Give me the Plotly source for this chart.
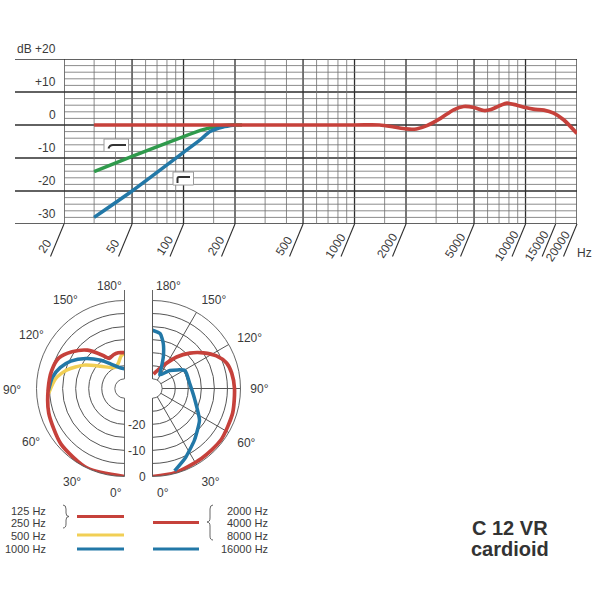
import numpy as np
import plotly.graph_objects as go

W = H = 600
def px(x): return x / W
def py(y): return 1 - y / H

FONT = "Liberation Sans, Arial, Helvetica, sans-serif"
TXT = "#3a3a3a"
RED = "#c6413b"
GREEN = "#2f9a4c"
BLUE = "#2278a7"
YELLOW = "#f1cf55"

# ---------------- frequency response data ----------------
grid_major_f = [20, 50, 100, 200, 500, 1000, 2000, 5000, 10000, 20000]
grid_minor_f = [30, 40, 60, 70, 80, 90, 150, 300, 400, 600, 700, 800, 900, 1500,
                3000, 4000, 6000, 7000, 8000, 9000, 15000]
freq_tick_labels = [20, 50, 100, 200, 500, 1000, 2000, 5000, 10000, 15000, 20000]
db_major = [20, 10, 0, -10, -20, -30]
db_major_text = ["+20", "+10", "0", "-10", "-20", "-30"]
db_minor = [v for v in range(-28, 20, 2) if v % 10 != 0]

red_f = [30, 100, 1000, 1400, 1700, 2000, 2300, 2650, 3200, 3800, 4350, 5000, 5700,
         6200, 7100, 7800, 8900, 10000, 11100, 12800, 14600, 16700, 20000]
red_db = [0, 0, 0, 0, -0.6, -1.2, -1.2, -0.2, 2.1, 4.6, 5.6, 5.3, 4.4,
          4.6, 5.9, 6.6, 6.0, 5.3, 4.8, 4.5, 3.6, 1.6, -2.6]
green_f = [30, 50, 100, 130, 160, 190, 220]
green_db = [-14.1, -9.5, -3.5, -1.4, -0.3, 0, 0]
blue_f = [30, 50, 100, 125, 143, 170, 200]
blue_db = [-28, -20, -8.3, -4.5, -2.0, -0.6, 0]

# ---------------- polar data (theta deg, level dB) ----------------
L_red_t = [0, 25, 49, 72, 90, 104, 115, 125, 136, 147, 153, 162, 170, 180]
L_red_r = [0, 0, -1.4, -3.2, -4.5, -5.0, -6.0, -9.2, -13.3, -18.6, -20.8, -20.1, -19.8, -20.0]
L_yel_t = [86, 98, 108, 120, 133, 148, 158, 166, 174, 180]
L_yel_r = [-4.5, -7.0, -10.6, -15.8, -21.2, -24.3, -24.8, -23.8, -21.2, -20.2]
L_blu_t = [88, 99, 108, 117, 128, 140, 152, 165, 180]
L_blu_r = [-4.5, -5.8, -7.8, -10.6, -15.0, -19.6, -23.2, -25.3, -26.2]

R_red_t = [0, 15, 35, 53, 73, 90, 101, 109, 117, 125, 133.5, 142.6, 155, 165, 176]
R_red_r = [0, -0.3, -1.0, -0.9, -1.6, -2.3, -2.8, -3.7, -6.2, -9.9, -14.0, -18.5, -24.0, -26.6, -28.2]
R_blu_t = [15, 25, 39, 56, 75, 97, 119, 136, 152, 157, 161, 166.5, 172, 180]
R_blu_r = [-1.0, -4.2, -8.2, -12.0, -16.9, -19.3, -19.5, -24.1, -27.8, -25.0, -21.0, -16.0, -12.5, -11.4]

polar_rings = [-25, -20, -15, -10, -5, 0]
polar_angles = [0, 30, 60, 90, 120, 150, 180]
radial_labels = [-20, -10, 0]
# label text for the left half-diagram (placed next to its rim)
left_angle_labels = [("150°", 65, 300), ("120°", 31, 335), ("90°", 11.5, 390), ("60°", 31, 442), ("30°", 71.5, 482)]

legend_left = ["125 Hz", "250 Hz", "500 Hz", "1000 Hz"]
legend_right = ["2000 Hz", "4000 Hz", "8000 Hz", "16000 Hz"]

X0, X1 = 64, 577          # pixel extent of the frequency axis
Y_TOP, Y_BOT = 59, 224    # pixel extent of the dB axis

fig = go.Figure()

# ---- grid lines as traces ----
def seg_x(fs):
    xs, ys = [], []
    for f in fs:
        xs += [f, f, None]
        ys += [-30, 20, None]
    return xs, ys

xs, ys = seg_x(grid_minor_f)
fig.add_trace(go.Scatter(x=xs, y=ys, mode="lines", line=dict(color="#6e6e6e", width=0.8),
                         hoverinfo="skip"))
xs, ys = seg_x(grid_major_f)
fig.add_trace(go.Scatter(x=xs, y=ys, mode="lines", line=dict(color="#2e2e2e", width=1.3),
                         hoverinfo="skip"))
hx, hy = [], []
for v in db_minor:
    hx += [20, 20000, None]
    hy += [v, v, None]
fig.add_trace(go.Scatter(x=hx, y=hy, mode="lines", line=dict(color="#6e6e6e", width=0.8),
                         hoverinfo="skip"))

# ---- response curves ----
fig.add_trace(go.Scatter(x=green_f, y=green_db, mode="lines", line=dict(color=GREEN, width=3.5, shape="spline", smoothing=0.6)))
fig.add_trace(go.Scatter(x=blue_f, y=blue_db, mode="lines", line=dict(color=BLUE, width=3.5, shape="spline", smoothing=0.6)))
fig.add_trace(go.Scatter(x=red_f, y=red_db, mode="lines", line=dict(color=RED, width=3.7, shape="spline", smoothing=0.8)))

# ---- polar traces ----
fig.add_trace(go.Scatterpolar(r=L_yel_r, theta=L_yel_t, mode="lines", subplot="polar",
                              line=dict(color=YELLOW, width=3.5, shape="spline", smoothing=0.7)))
fig.add_trace(go.Scatterpolar(r=L_blu_r, theta=L_blu_t, mode="lines", subplot="polar",
                              line=dict(color=BLUE, width=3.5, shape="spline", smoothing=0.7)))
fig.add_trace(go.Scatterpolar(r=L_red_r, theta=L_red_t, mode="lines", subplot="polar",
                              line=dict(color=RED, width=3.7, shape="spline", smoothing=0.7)))
fig.add_trace(go.Scatterpolar(r=R_red_r, theta=R_red_t, mode="lines", subplot="polar2",
                              line=dict(color=RED, width=3.7, shape="spline", smoothing=0.7)))
fig.add_trace(go.Scatterpolar(r=R_blu_r, theta=R_blu_t, mode="lines", subplot="polar2",
                              line=dict(color=BLUE, width=3.5, shape="spline", smoothing=0.5)))

def polar_cfg(xdom, sector, direction, show_labels):
    return dict(
        domain=dict(x=[px(xdom[0]), px(xdom[1])], y=[py(476.5), py(300.5)]),
        sector=sector, hole=0.11, bgcolor="white",
        angularaxis=dict(rotation=-90, direction=direction, tickmode="array",
                         tickvals=polar_angles,
                         ticktext=["" if a in (0, 180) else f"{a}°" for a in polar_angles],
                         showticklabels=show_labels,
                         showgrid=True, gridcolor="#555", gridwidth=0.8,
                         showline=True, linecolor="#555", linewidth=0.9,
                         ticks="outside", ticklen=7, tickcolor="rgba(0,0,0,0)",
                         tickfont=dict(family=FONT, size=12, color=TXT)),
        radialaxis=dict(range=[-30, 0], tickmode="array", tickvals=polar_rings,
                        showticklabels=False, ticks="", showline=False,
                        showgrid=True, gridcolor="#555", gridwidth=0.8),
    )

shapes = []
annotations = []

def label(x, y, text, size=12, xanchor="center", yanchor="middle", **kw):
    d = dict(xref="paper", yref="paper", x=x, y=y, text=text, showarrow=False,
             xanchor=xanchor, yanchor=yanchor, font=dict(family=FONT, size=size, color=TXT))
    d.update(kw)
    annotations.append(d)

# major horizontal lines extend to the left
for v in db_major:
    shapes.append(dict(type="line", xref="paper", yref="y", x0=px(15), x1=px(X1), y0=v, y1=v,
                       line=dict(color="#2e2e2e", width=1.3), layer="below"))

for v, t in zip(db_major, db_major_text):
    label(px(58), v, t, xanchor="right", yanchor="bottom", yref="y", yshift=1)
label(px(15), 20, "dB", xanchor="left", yanchor="bottom", yref="y", yshift=1)

# slanted ticks + rotated labels
def fx(f):
    return X0 + (np.log10(f) - np.log10(20)) / 3 * (X1 - X0)

for f in freq_tick_labels:
    x = fx(f)
    shapes.append(dict(type="line", xref="paper", yref="paper",
                       x0=px(x), x1=px(x - 13.5), y0=py(Y_BOT), y1=py(256.5),
                       line=dict(color="#2e2e2e", width=1.1)))
    annotations.append(dict(xref="x", yref="paper", x=np.log10(f), y=py(246), xshift=-19,
                            text=str(f), textangle=-57, showarrow=False,
                            xanchor="center", yanchor="middle",
                            font=dict(family=FONT, size=12, color=TXT)))
label(px(584), py(253), "Hz")

# filter icons
def path(points):
    return " ".join(f"{px(p[0]):.5f},{py(p[1]):.5f}" for p in points)

shapes.append(dict(type="rect", xref="paper", yref="paper", x0=px(104), x1=px(128.5),
                   y0=py(151.5), y1=py(139), fillcolor="white", line=dict(color="#9a9a9a", width=1)))
shapes.append(dict(type="path", xref="paper", yref="paper",
                   path="M " + path([(108.5, 148.5)]) + " Q " + path([(109.5, 145), (113, 145)]) + " L " + path([(126, 145)]),
                   line=dict(color="#333", width=2)))
shapes.append(dict(type="rect", xref="paper", yref="paper", x0=px(173), x1=px(193.5),
                   y0=py(185), y1=py(172), fillcolor="white", line=dict(color="#9a9a9a", width=1)))
shapes.append(dict(type="path", xref="paper", yref="paper",
                   path="M " + path([(177.5, 183)]) + " L " + path([(177.5, 178.5)]) + " Q " + path([(177.5, 177), (179, 177)]) + " L " + path([(190, 177)]),
                   line=dict(color="#333", width=2)))

# polar vertical axis extensions above the circles
for xc in (124.5, 152.5):
    shapes.append(dict(type="line", xref="paper", yref="paper", x0=px(xc), x1=px(xc),
                       y0=py(300.5), y1=py(290), line=dict(color="#555", width=0.9)))
# angle labels 0 / 180 and left half labels
for x, y, t in [(110, 286, "180°"), (168, 286, "180°"), (116, 493, "0°"), (163, 493, "0°")]:
    label(px(x), py(y), t)
for t, x, y in left_angle_labels:
    label(px(x), py(y), t)
# radial labels
for v in radial_labels:
    label(px(148), py(388.5 + 10 + (v + 30) / 30 * 78), str(v), xanchor="right")

# legend
lefty = [511, 523, 535.5, 549]
for t, y in zip(legend_left, lefty):
    label(px(48), py(y), t, size=11, xanchor="right")
for t, y in zip(legend_right, lefty):
    label(px(270), py(y), t, size=11, xanchor="right")
for (x0, x1, y, c) in [(77, 124, 516.5, RED), (77, 124, 535, YELLOW), (77, 124, 549, BLUE),
                       (153, 199, 522.5, RED), (153, 199, 549, BLUE)]:
    shapes.append(dict(type="line", xref="paper", yref="paper", x0=px(x0), x1=px(x1),
                       y0=py(y), y1=py(y), line=dict(color=c, width=3.2)))
# braces
shapes.append(dict(type="path", xref="paper", yref="paper",
                   path="M " + path([(63, 505)]) + " Q " + path([(66, 505), (66, 509)]) + " L " + path([(66, 513)])
                   + " Q " + path([(66, 516.5), (69, 516.5)]) + " Q " + path([(66, 516.5), (66, 520)])
                   + " L " + path([(66, 524)]) + " Q " + path([(66, 528), (63, 528)]),
                   line=dict(color="#555", width=0.9)))
shapes.append(dict(type="path", xref="paper", yref="paper",
                   path="M " + path([(213, 505)]) + " Q " + path([(210, 505), (210, 509)]) + " L " + path([(210, 518)])
                   + " Q " + path([(210, 522), (207, 522)]) + " Q " + path([(210, 522), (210, 526)])
                   + " L " + path([(210, 536)]) + " Q " + path([(210, 540), (213, 540)]),
                   line=dict(color="#555", width=0.9)))

# title
label(px(510), py(528), "<b>C 12 VR</b>", size=20, font=dict(family=FONT, size=20, color="#333"))
label(px(510), py(549), "<b>cardioid</b>", size=20, font=dict(family=FONT, size=20, color="#333"))

fig.update_layout(
    width=W, height=H, margin=dict(l=0, r=0, t=0, b=0),
    paper_bgcolor="white", plot_bgcolor="rgba(0,0,0,0)", showlegend=False,
    xaxis=dict(type="log", range=[np.log10(20), np.log10(20000)], domain=[px(X0), px(X1)], visible=False),
    yaxis=dict(range=[-30, 20], domain=[py(Y_BOT), py(Y_TOP)], visible=False),
    polar=polar_cfg((36.5, 124.5), [90, 270], "clockwise", False),
    polar2=polar_cfg((152.5, 240.5), [-90, 90], "counterclockwise", True),
    shapes=shapes, annotations=annotations,
)

fig.write_html("out.html")
